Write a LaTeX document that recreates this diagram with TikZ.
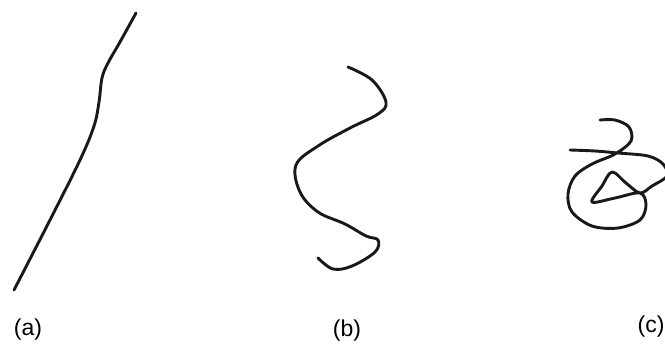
\documentclass[tikz,border=0pt]{standalone}
\usepackage{fontspec}
\setmainfont{Liberation Sans}
\usetikzlibrary{positioning}

\begin{document}
\begin{tikzpicture}[
    x=1pt, y=-1pt,
    curve/.style={line width=2.9pt, line cap=round, line join=round, black!90},
    lbl/.style={font=\fontsize{23}{27}\selectfont, inner sep=0pt},
  ]
    \useasboundingbox (0,0) rectangle (665,354);
    % (a) almost straight chain
    \draw[curve] plot[smooth, tension=0.6] coordinates {
      (14,290) (50,220) (80,160) (94,126) (99,102) (102,78) (108,63) (120,42) (136,13)};
    % (b) folded chain
    \draw[curve] plot[smooth, tension=0.6] coordinates {
      (348,67) (372,80) (386,102) (378,114) (350,128) (318,146) (296,165)
      (300,192) (318,212) (345,224) (366,236) (378,240) (375,252) (352,266)
      (333,269) (318,258)};
    % (c) coiled chain
    \begin{scope}
      \clip (540,100) rectangle (665,240);
      \draw[curve] plot[smooth, tension=0.55] coordinates {
        (570,150) (595,151) (618,153) (648,156) (663,164) (667,176) (652,186)
        (640,193) (626,183) (612,172) (602,186) (592,202) (615,198) (640,193)
        (646,205) (640,220) (618,228) (592,226) (572,212) (568,194) (575,176)
        (592,164) (615,154) (631,141) (629,127) (615,120) (600,120)};
    \end{scope}
    \node[lbl] (la) at (28,330) {(a)};
    \node[lbl] (lb) at (347,331) {(b)};
    \node[lbl] (lc) at (651,327) {(c)};
  \end{tikzpicture}
\end{document}
